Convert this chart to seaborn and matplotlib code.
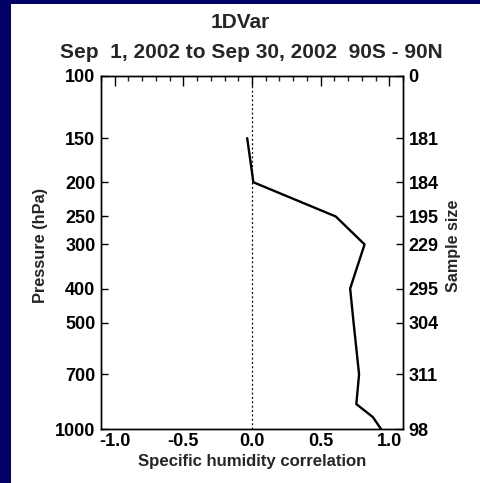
import matplotlib
matplotlib.use("Agg")
import matplotlib.pyplot as plt
import seaborn as sns
import pandas as pd
import numpy as np
from matplotlib.ticker import FixedLocator, MultipleLocator, NullLocator, FixedFormatter

pressure = [150, 200, 250, 300, 400, 500, 700, 850, 925, 1000]
correlation = [-0.035, 0.01, 0.61, 0.82, 0.715, 0.74, 0.78, 0.76, 0.88, 0.94]
tick_pressures = [100, 150, 200, 250, 300, 400, 500, 700, 1000]
tick_labels = ["100", "150", "200", "250", "300", "400", "500", "700", "1000"]
sample_sizes = ["0", "181", "184", "195", "229", "295", "304", "311", "98"]
x_ticks = [-1.0, -0.5, 0.0, 0.5, 1.0]

sns.set_style("white")
plt.rcParams['font.family'] = ['Liberation Sans', 'DejaVu Sans']
plt.rcParams['font.weight'] = 'bold'

fig = plt.figure(figsize=(4.8, 4.83), dpi=100, facecolor='#000066')
fig.patches.append(matplotlib.patches.Rectangle((11/480, 0), 1, 1 - 4/483,
                   transform=fig.transFigure, facecolor='white', edgecolor='none', zorder=-10))

ax = fig.add_axes([101/480, 54/483, 302/480, 353/483])
ax.set_facecolor('white')
df = pd.DataFrame({"corr": correlation, "p": pressure})
sns.lineplot(data=df, x="corr", y="p", sort=False, estimator=None, color='black',
             linewidth=1.7, ax=ax)
ax.axvline(0.0, color='black', linestyle=(0, (1.5, 2)), linewidth=0.9)

ax.set_yscale('log')
ax.set_ylim(1000, 100)
ax.set_xlim(-1.1, 1.1)
ax.yaxis.set_major_locator(FixedLocator(tick_pressures))
ax.yaxis.set_major_formatter(FixedFormatter(tick_labels))
ax.yaxis.set_minor_locator(NullLocator())
ax.xaxis.set_major_locator(FixedLocator(x_ticks))
ax.xaxis.set_minor_locator(MultipleLocator(0.1))
ax.set_xticklabels([f"{v:.1f}" for v in x_ticks])

TS = 13
ax.tick_params(axis='x', which='major', direction='in', length=7, width=1, top=True,
               labelsize=TS, pad=3, colors='black')
ax.tick_params(axis='x', which='minor', direction='in', length=3.5, width=1, top=True)
ax.tick_params(axis='y', which='major', direction='in', length=5, width=1, labelsize=TS,
               pad=4, colors='black')
for s in ax.spines.values():
    s.set_color('black')
    s.set_linewidth(1)

ax.set_xlabel("Specific humidity correlation", fontsize=12.1, fontweight='bold', labelpad=3)
ax.set_ylabel("Pressure (hPa)", fontsize=11.8, fontweight='bold')

ax2 = ax.twinx()
ax2.set_yscale('log')
ax2.set_ylim(1000, 100)
ax2.yaxis.set_major_locator(FixedLocator(tick_pressures))
ax2.yaxis.set_major_formatter(FixedFormatter(sample_sizes))
ax2.yaxis.set_minor_locator(NullLocator())
ax2.tick_params(axis='y', which='major', direction='in', length=5, width=1, labelsize=TS,
                pad=4, colors='black')
ax2.set_ylabel("Sample size", fontsize=11.6, fontweight='bold')
ax2.yaxis.set_label_coords(1.142, 0.52)
ax.yaxis.set_label_coords(-0.175, 0.52)
for s in ax2.spines.values():
    s.set_color('black')
    s.set_linewidth(1)

fig.text(0.5, 1 - 22/483, "1DVar", ha='center', va='center', fontsize=15, fontweight='bold')
fig.text(251/480, 1 - 52/483, "Sep  1, 2002 to Sep 30, 2002  90S - 90N", ha='center', va='center',
         fontsize=15, fontweight='bold')

fig.savefig("out.png", dpi=100, facecolor=fig.get_facecolor())
